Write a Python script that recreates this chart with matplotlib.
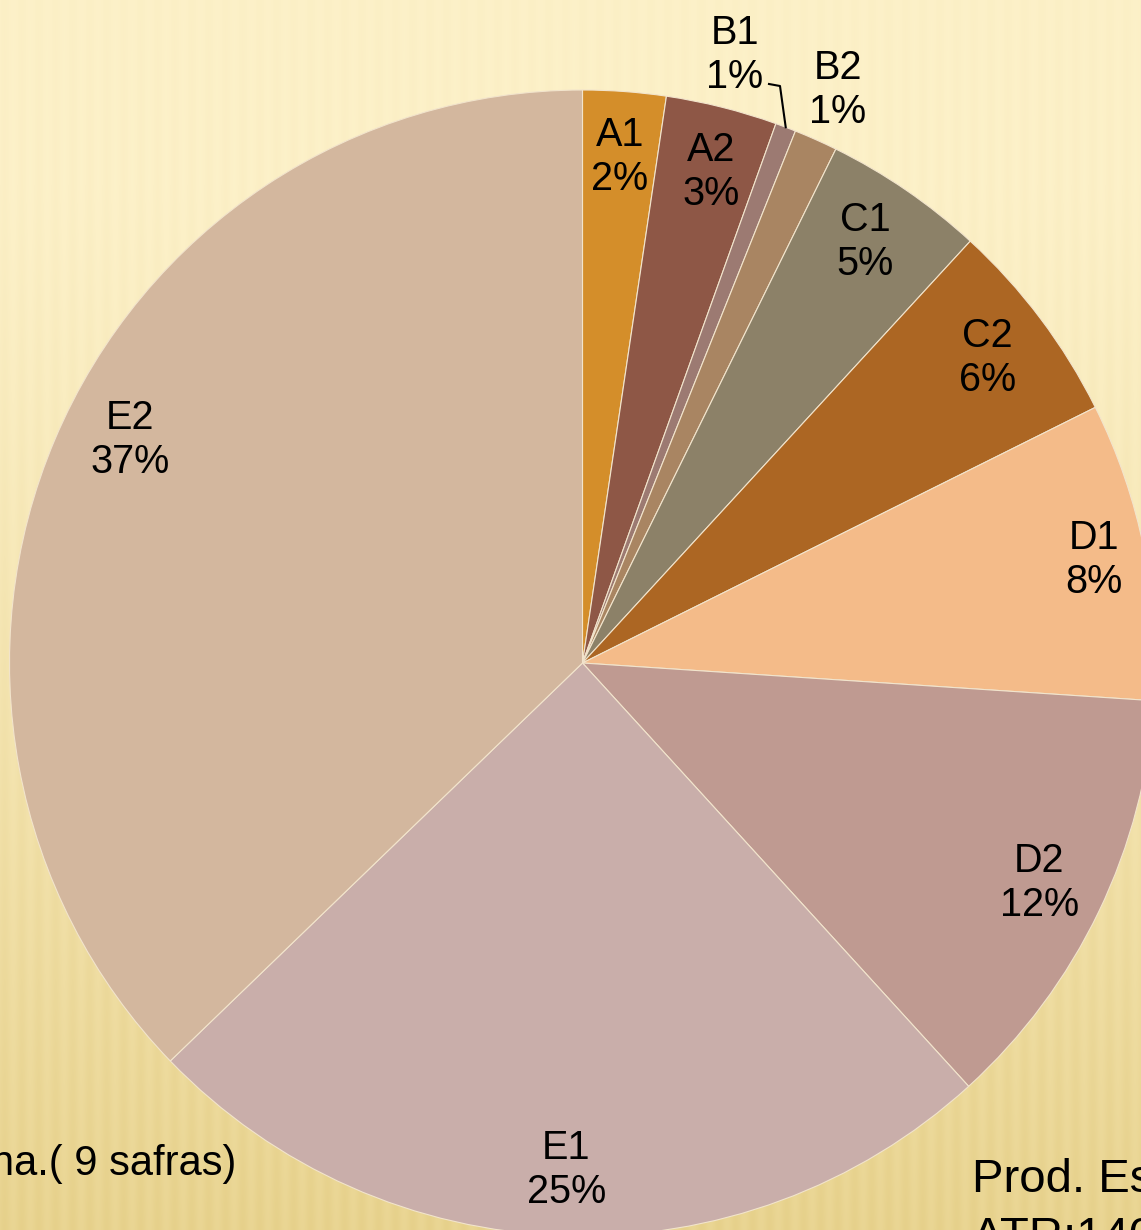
import numpy as np
import matplotlib
matplotlib.use("Agg")
import matplotlib.pyplot as plt

# ---- data ----
categories = ["A1", "A2", "B1", "B2", "C1", "C2", "D1", "D2", "E1", "E2"]
shares = [2.34, 3.14, 0.58, 1.23, 4.54, 5.81, 8.41, 12.18, 24.55, 37.22]
pct_labels = ["2%", "3%", "1%", "1%", "5%", "6%", "8%", "12%", "25%", "37%"]
colors = ["#D48E2A", "#8E5746", "#9C7A72", "#A98562", "#8C8168",
          "#AC6623", "#F4BB89", "#BF9A91", "#C9AEAA", "#D3B79E"]
note_left = "ha.( 9 safras)"
note_right_1 = "Prod. Esperada"
note_right_2 = "ATR:140 kg/t"

W, H = 1141, 1230
fig = plt.figure(figsize=(W / 100, H / 100), dpi=100)
ax = fig.add_axes([0, 0, 1, 1])

# ---- background: cream-to-gold gradient with faint vertical stripes ----
yy = np.linspace(0, 1, H)[:, None]
xx = np.arange(W)[None, :]
top = np.array([252, 240, 199]) / 255.0
bot = np.array([232, 211, 143]) / 255.0
t = np.clip((yy - 0.15) / 0.85, 0, 1) ** 1.2
base = top[None, None, :] * (1 - t[..., None]) + bot[None, None, :] * t[..., None]
stripes = 0.012 * np.sin(2 * np.pi * xx / 17.0)
stripes = stripes * (0.4 + 0.6 * yy)
bg = np.clip(base - stripes[..., None] * np.array([0.6, 0.8, 1.4]), 0, 1)
ax.imshow(bg, extent=(0, W, 0, H), origin="upper", aspect="auto", zorder=0)

# ---- pie ----
cx, cy, R = 582.5, H - 663, 573
wedges, _ = ax.pie(shares, colors=colors, startangle=90, counterclock=False,
                   center=(cx, cy), radius=R, frame=True,
                   wedgeprops=dict(edgecolor="#F2E4CC", linewidth=0.8, zorder=2))

lab_font = dict(family=["Liberation Sans", "DejaVu Sans"], fontsize=28.5,
                color="black", ha="center", va="center", linespacing=1.2, zorder=5)

# radial distance factor and angle shift (deg, ccw) per label
label_dist = {"D1": 0.91, "E2": 0.88}
label_shift = {"E2": -3.2, "A2": -0.6, "C1": 0.5}

for i, w in enumerate(wedges):
    name = categories[i]
    mid_deg = (w.theta1 + w.theta2) / 2 + label_shift.get(name, 0.0)
    mid = np.deg2rad(mid_deg)
    label = f"{name}\n{pct_labels[i]}"
    if name == "B1":
        tx, ty = 735, H - 55
        ax.text(tx, ty, label, **lab_font)
        ex, ey = cx + R * np.cos(mid), cy + R * np.sin(mid)
        ax.plot([769, 780, ex], [H - 84, H - 86, ey], color="black", lw=1.5, zorder=5)
    elif name == "B2":
        f = 1.094
        ax.text(cx + R * f * np.cos(mid), cy + R * f * np.sin(mid), label, **lab_font)
    else:
        f = label_dist.get(name, 0.885)
        ax.text(cx + R * f * np.cos(mid), cy + R * f * np.sin(mid), label, **lab_font)

note_font = dict(family=["Liberation Sans", "DejaVu Sans"], color="black", zorder=6)
ax.text(236, H - 1175, note_left, ha="right", va="baseline", fontsize=30, **note_font)
ax.text(972, H - 1192, note_right_1, ha="left", va="baseline", fontsize=34, **note_font)
ax.text(972, H - 1250, note_right_2, ha="left", va="baseline", fontsize=34, **note_font)

ax.set_xlim(0, W)
ax.set_ylim(0, H)
ax.set_aspect("auto")
ax.axis("off")

fig.savefig("out.png", dpi=100)
